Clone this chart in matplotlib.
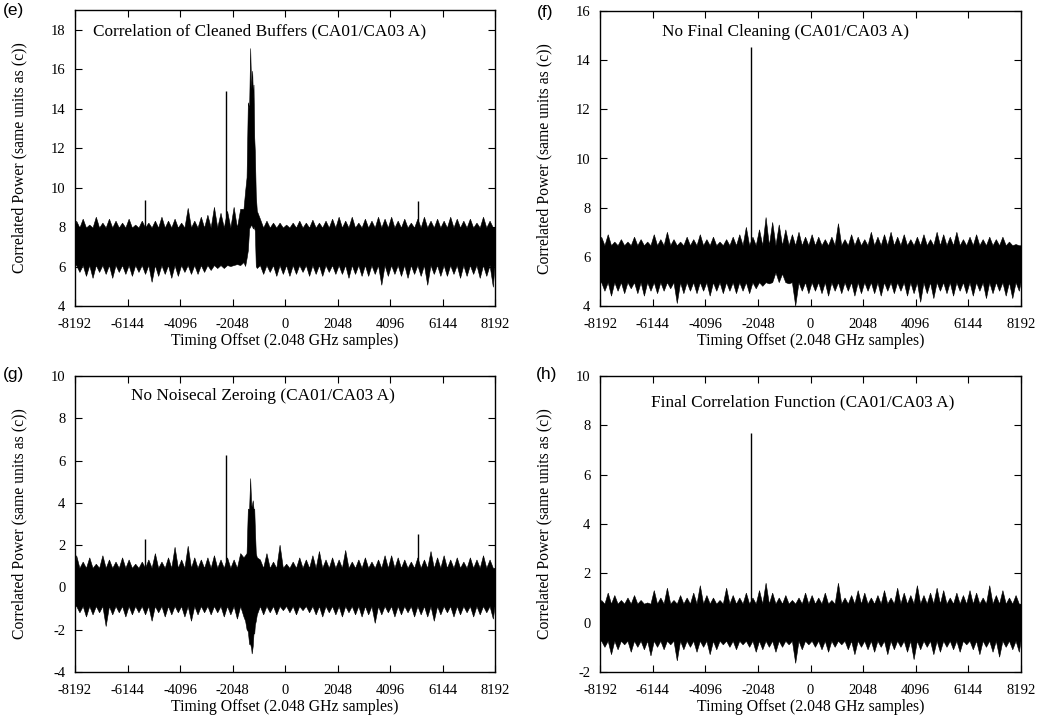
import numpy as np
import matplotlib.pyplot as plt

plt.rcParams['font.family'] = 'Liberation Serif'

# the correlation functions are drawn as envelopes:
# per 256-sample bin the highest and lowest excursion, plus the solid core,
# single spikes and the fine-grained burst near the true lag
bin_centres = np.arange(-8064, 8192, 256)
x_ticks = [-8192, -6144, -4096, -2048, 0, 2048, 4096, 6144, 8192]

# (e) Correlation of Cleaned Buffers
e_hi = [8.3, 8.4, 8.1, 8.5, 8.2, 8.4, 8.3, 8.2, 8.4, 8.1,
        8.3, 8.2, 8.3, 8.5, 8.3, 8.4, 8.2, 8.95, 8.3, 8.5,
        8.6, 9.0, 8.7, 8.8, 9.0, 8.9, 9.8, 9.6,
        8.4, 8.3, 8.2, 8.2, 8.1, 8.2, 8.3, 8.2,
        8.35, 8.2, 8.3, 8.4, 8.5, 8.3, 8.5, 8.2,
        8.4, 8.3, 8.5, 8.4, 8.5, 8.3, 8.4, 8.2,
        8.4, 8.5, 8.3, 8.4, 8.3, 8.5, 8.4, 8.3,
        8.4, 8.2, 8.5, 8.3]
e_lo = [5.7, 5.5, 5.4, 5.7, 5.6, 5.4, 5.7, 5.6, 5.5, 5.7,
        5.6, 5.2, 5.5, 5.6, 5.4, 5.5, 5.7, 5.6, 5.6, 5.7,
        5.8, 5.9, 5.9, 6.0, 6.1, 6.1, 6.0, 6.0,
        5.6, 5.7, 5.5, 5.6, 5.5, 5.6, 5.7, 5.5,
        5.6, 5.5, 5.7, 5.6, 5.6, 5.4, 5.6, 5.5,
        5.5, 5.6, 5.05, 5.5, 5.6, 5.5, 5.4, 5.6,
        5.5, 5.05, 5.6, 5.5, 5.5, 5.6, 5.4, 5.5,
        5.6, 5.4, 5.5, 4.95]
e_core = (6.05, 7.95)
e_spike_x = [-5461, -2312, 5201]
e_spike_y = [9.35, 14.9, 9.3]
e_burst_x = [-1600, -1536, -1480, -1430, -1380, -1339, -1300,
             -1261, -1230, -1209, -1180, -1157, -1120, -1080]
e_burst_hi = [8.9, 9.8, 10.5, 14.3, 14.0, 17.05, 15.0,
              15.9, 14.5, 15.2, 12.5, 11.8, 9.6, 8.8]
e_burst_lo = [6.2, 6.0, 6.4, 6.8, 7.9, 8.0, 8.1,
              8.0, 7.9, 8.0, 7.9, 7.8, 6.0, 5.9]

# (f) No Final Cleaning
f_hi = [6.8, 6.9, 6.6, 6.7, 6.6, 6.8, 6.7, 6.6, 6.9, 6.7,
        7.0, 6.7, 6.6, 6.8, 6.7, 6.9, 6.7, 6.8, 6.6, 6.7,
        6.8, 6.9, 7.2, 6.8, 7.1, 7.6, 7.4, 7.3,
        7.1, 6.9, 7.0, 6.8, 6.9, 6.8, 6.7, 6.8,
        7.35, 6.7, 6.9, 6.8, 6.7, 7.0, 6.8, 6.9,
        7.0, 6.8, 6.9, 6.7, 6.8, 6.9, 6.7, 7.0,
        6.9, 6.8, 7.0, 6.7, 6.8, 6.9, 6.7, 6.8,
        6.7, 6.8, 6.6, 6.5]
f_lo = [4.6, 4.4, 4.6, 4.5, 4.7, 4.5, 4.4, 4.6, 4.5, 4.6,
        4.7, 4.1, 4.5, 4.6, 4.5, 4.6, 4.4, 4.6, 4.5, 4.6,
        4.5, 4.6, 4.5, 4.7, 4.8, 4.9, 5.35, 5.3,
        4.9, 4.0, 4.6, 4.5, 4.6, 4.5, 4.4, 4.6,
        4.5, 4.6, 4.4, 4.5, 4.6, 4.5, 4.4, 4.6,
        4.5, 4.6, 4.4, 4.5, 4.15, 4.5, 4.3, 4.6,
        4.5, 4.4, 4.6, 4.5, 4.4, 4.6, 4.3, 4.5,
        4.6, 4.4, 4.3, 4.6]
f_core = (4.95, 6.45)
f_spike_x = [-2328]
f_spike_y = [14.55]

# (g) No Noisecal Zeroing
g_hi = [1.5, 1.2, 1.4, 1.1, 1.5, 1.3, 1.2, 1.4, 1.3, 1.1,
        1.2, 1.3, 1.6, 1.2, 1.4, 1.9, 1.3, 1.95, 1.4, 1.3,
        1.4, 1.5, 1.3, 1.4, 1.3, 1.6, 1.5, 1.4,
        1.3, 1.6, 1.2, 2.0, 1.1, 1.2, 1.4, 1.3,
        1.5, 1.7, 1.3, 1.4, 1.3, 1.75, 1.2, 1.3,
        1.4, 1.2, 1.3, 1.5, 1.5, 1.4, 1.3, 1.2,
        1.4, 1.3, 1.7, 1.4, 1.5, 1.3, 1.4, 1.2,
        1.4, 1.3, 1.5, 1.3]
g_lo = [-1.2, -1.4, -1.3, -1.2, -1.85, -1.3, -1.2, -1.4, -1.3, -1.2,
        -1.3, -1.6, -1.2, -1.4, -1.3, -1.2, -1.4, -1.6, -1.3, -1.2,
        -1.3, -1.2, -1.4, -1.3, -1.5, -1.6, -1.5, -1.4,
        -1.3, -1.2, -1.3, -1.1, -1.2, -1.3, -1.1, -1.2,
        -1.3, -1.4, -1.2, -1.3, -1.4, -1.2, -1.3, -1.4,
        -1.3, -1.7, -1.3, -1.2, -1.4, -1.3, -1.2, -1.4,
        -1.3, -1.4, -1.6, -1.3, -1.2, -1.4, -1.3, -1.2,
        -1.4, -1.3, -1.2, -1.5]
g_core = (-0.9, 0.9)
g_spike_x = [-5461, -2312, 5201]
g_spike_y = [2.3, 6.25, 2.55]
g_burst_x = [-1600, -1536, -1480, -1430, -1380, -1339, -1300,
             -1280, -1240, -1209, -1180, -1157, -1120, -1080]
g_burst_hi = [1.4, 1.5, 1.6, 3.7, 3.7, 5.15, 3.9,
              3.8, 4.1, 3.7, 3.7, 2.8, 1.6, 1.4]
g_burst_lo = [-1.4, -1.6, -2.0, -2.1, -2.7, -2.7, -2.9,
              -3.15, -2.8, -2.2, -2.2, -1.8, -1.6, -1.3]

# (h) Final Correlation Function
h_hi = [0.9, 1.2, 1.1, 0.9, 1.0, 1.1, 0.9, 0.8, 1.3, 1.0,
        1.4, 0.9, 1.1, 1.0, 1.2, 1.5, 1.1, 1.0, 0.9, 1.4,
        1.1, 1.0, 1.2, 1.0, 1.3, 1.6, 1.2, 1.0,
        1.1, 0.9, 1.0, 1.2, 1.1, 1.0, 1.2, 0.9,
        1.6, 1.0, 1.1, 1.3, 1.2, 1.0, 1.1, 1.3,
        1.0, 1.4, 1.2, 1.1, 1.5, 1.1, 1.2, 1.4,
        1.3, 1.0, 1.2, 1.1, 1.3, 1.2, 1.0, 1.5,
        1.1, 1.3, 1.0, 1.1]
h_lo = [-1.0, -1.3, -1.1, -0.9, -1.2, -1.0, -1.1, -1.35, -1.0, -1.1,
        -0.9, -1.55, -1.1, -1.0, -1.2, -1.0, -1.3, -1.1, -0.9, -1.0,
        -1.1, -0.9, -1.0, -1.2, -1.1, -1.0, -1.2, -1.0,
        -0.9, -1.65, -1.1, -0.9, -1.0, -1.1, -1.2, -1.0,
        -0.9, -1.1, -1.3, -1.0, -1.1, -1.2, -1.0, -1.3,
        -1.1, -1.0, -1.2, -1.5, -1.1, -1.0, -1.3, -1.2,
        -1.0, -1.1, -1.2, -0.9, -1.1, -1.3, -1.0, -1.2,
        -1.4, -1.0, -1.1, -1.2]
h_core = (-0.75, 0.75)
h_spike_x = [-2305]
h_spike_y = [7.7]


def draw_panel(ax, hi, lo, core, spike_x, spike_y,
               burst_x=None, burst_hi=None, burst_lo=None):
    # upper edge: peak at c-64, back to the core at c+64 (lower edge mirrored)
    xu = np.concatenate([bin_centres - 64, bin_centres + 64])
    yu = np.concatenate([hi, np.full(len(hi), core[1])])
    xl = np.concatenate([bin_centres - 64, bin_centres + 64])
    yl = np.concatenate([np.full(len(lo), core[0]), lo])
    if burst_x is not None:
        bx = np.array(burst_x)
        ku = (xu < bx[0]) | (xu > bx[-1])
        kl = (xl < bx[0]) | (xl > bx[-1])
        xu = np.concatenate([xu[ku], bx])
        yu = np.concatenate([yu[ku], burst_hi])
        xl = np.concatenate([xl[kl], bx])
        yl = np.concatenate([yl[kl], burst_lo])
    ou = np.argsort(xu)
    ol = np.argsort(xl)[::-1]
    px = np.concatenate([[-8192], xu[ou], [8192, 8192], xl[ol], [-8192]])
    py = np.concatenate([[core[1]], yu[ou], [core[1], core[0]], yl[ol], [core[0]]])
    ax.fill(px, py, color='black', lw=0.4, ec='black')
    ax.vlines(spike_x, np.mean(core), spike_y, color='black', lw=1.0)


W, H = 1046, 726
fig = plt.figure(figsize=(W / 100, H / 100), dpi=100)

# axes boxes in pixels: left, top, right, bottom
boxes = {
    'e': (75, 10, 495, 306),
    'f': (600, 11, 1021, 306),
    'g': (75, 376, 495, 672),
    'h': (600, 376, 1021, 672),
}
axes = {}
for key, (l, t, r, b) in boxes.items():
    axes[key] = fig.add_axes([l / W, 1 - b / H, (r - l) / W, (b - t) / H])

draw_panel(axes['e'], e_hi, e_lo, e_core, e_spike_x, e_spike_y,
           e_burst_x, e_burst_hi, e_burst_lo)
draw_panel(axes['f'], f_hi, f_lo, f_core, f_spike_x, f_spike_y)
draw_panel(axes['g'], g_hi, g_lo, g_core, g_spike_x, g_spike_y,
           g_burst_x, g_burst_hi, g_burst_lo)
draw_panel(axes['h'], h_hi, h_lo, h_core, h_spike_x, h_spike_y)

ylims = {'e': (4, 19), 'f': (4, 16), 'g': (-4, 10), 'h': (-2, 10)}
yticks = {'e': np.arange(4, 19, 2), 'f': np.arange(4, 17, 2),
          'g': np.arange(-4, 11, 2), 'h': np.arange(-2, 11, 2)}
titles = {
    'e': ('Correlation of Cleaned Buffers (CA01/CA03 A)', 0.44, 0.927),
    'f': ('No Final Cleaning (CA01/CA03 A)', 0.44, 0.93),
    'g': ('No Noisecal Zeroing (CA01/CA03 A)', 0.448, 0.931),
    'h': ('Final Correlation Function (CA01/CA03 A)', 0.482, 0.911),
}

for key, ax in axes.items():
    ax.set_xlim(-8192, 8192)
    ax.set_ylim(*ylims[key])
    ax.set_xticks(x_ticks)
    ax.set_xticklabels([str(t) for t in x_ticks])
    ax.set_yticks(yticks[key])
    ax.set_yticklabels([str(t) for t in yticks[key]])
    ax.tick_params(direction='in', top=True, right=True, length=5,
                   width=0.8, labelsize=10.5)
    ax.tick_params(axis='y', pad=7)
    ax.tick_params(axis='x', pad=9)
    for s in ax.spines.values():
        s.set_linewidth(1.0)
    ax.set_xlabel('Timing Offset (2.048 GHz samples)', fontsize=11.3)
    ax.set_ylabel('Correlated Power (same units as (c))', fontsize=11.3)
    ax.xaxis.set_label_coords(0.5, -0.092)
    ax.yaxis.set_label_coords(-0.113, 0.5)
    text, tx, ty = titles[key]
    ax.text(tx, ty, text, transform=ax.transAxes, ha='center', va='center',
            fontsize=12.4)

# panel letters
for key, (px, py) in {'e': (13, 11), 'f': (545, 12),
                      'g': (13, 374), 'h': (547, 374)}.items():
    fig.text(px / W, 1 - py / H, '(' + key + ')', ha='center', va='center',
             fontsize=12.5, family='Liberation Sans')

fig.savefig('out.png', dpi=100)
